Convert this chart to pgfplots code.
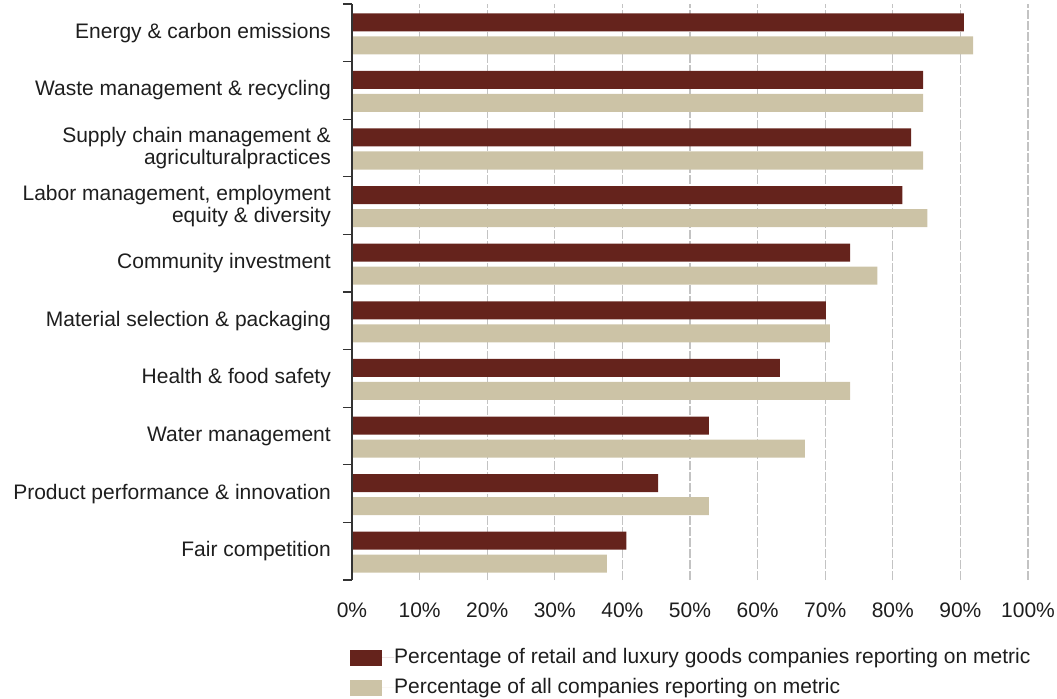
\documentclass[border=0pt]{standalone}
\usepackage{fontspec}
\setmainfont{Liberation Sans}
\usepackage{pgfplots}
\pgfplotsset{compat=1.18}
\definecolor{darkred}{RGB}{101,35,28}
\definecolor{tan}{RGB}{204,195,166}
\definecolor{gridgray}{RGB}{195,195,195}
\definecolor{txt}{RGB}{30,30,30}

\begin{document}
\fontsize{21bp}{22bp}\selectfont
\begin{tikzpicture}
\begin{axis}[
    scale only axis,
    width=676bp, height=576bp,
    xbar,
    bar width=18bp,
    xmin=0, xmax=100,
    ymin=-0.5, ymax=9.5,
    xtick={0,10,...,100},
    xticklabel={\pgfmathprintnumber{\tick}\%},
    /pgf/number format/assume math mode=true,
    ytick={0,...,9},
    yticklabels={Fair competition,
        Product performance \& innovation,
        Water management,
        Health \& food safety,
        Material selection \& packaging,
        Community investment,
        {Labor management, employment\\equity \& diversity},
        {Supply chain management \&\\agriculturalpractices},
        Waste management \& recycling,
        Energy \& carbon emissions},
    yticklabel style={align=right, text=txt, xshift=-14bp, font=\fontsize{21bp}{22bp}\selectfont},
    xticklabel style={text=txt, yshift=-16bp, font=\fontsize{21bp}{22bp}\selectfont},
    minor ytick={-0.5,0.5,...,9.5},
    ytick pos=left,
    major tick length=0pt,
    minor tick length=9bp,
    tick align=outside,
    minor tick style={black!80, line width=1.3bp},
    xmajorgrids,
    major grid style={gridgray, line width=1.2bp, dash pattern=on 9bp off 2bp},
    axis line style={draw=none},
    legend style={at={(rel axis cs:0,0)}, anchor=north west,
        xshift=-2bp, yshift=-64bp,
        draw=none, fill=none, inner sep=0pt,
        font=\fontsize{21bp}{22bp}\selectfont, text=txt,
        row sep=3bp,
        nodes={inner sep=0pt, outer sep=0pt, minimum height=27bp}},
    legend cell align=left,
    extra description/.code={
        \draw[black!80, line width=1.3bp] (rel axis cs:0,0) -- (rel axis cs:0,1);
        \coordinate (sw) at (rel axis cs:0,0);
    },
]
\addplot[fill=darkred, draw=none, bar shift=10.5bp,
    legend image code/.code={\fill[darkred] (0bp,-8bp) rectangle (32bp,8bp);
        \path (0bp,0bp) -- (44bp,0bp);}]
    coordinates {(40.6,0) (45.3,1) (52.8,2) (63.3,3) (70.1,4)
                 (73.7,5) (81.4,6) (82.7,7) (84.5,8) (90.5,9)};
\addplot[fill=tan, draw=none, bar shift=-12.5bp,
    legend image code/.code={\fill[tan] (0bp,-8bp) rectangle (32bp,8bp);
        \path (0bp,0bp) -- (44bp,0bp);}]
    coordinates {(37.7,0) (52.8,1) (67.0,2) (73.7,3) (70.7,4)
                 (77.7,5) (85.1,6) (84.5,7) (84.5,8) (91.9,9)};
\legend{Percentage of retail and luxury goods companies reporting on metric,
        Percentage of all companies reporting on metric}
\end{axis}
\pgfresetboundingbox
\path[use as bounding box] ([shift={(-352bp,-119bp)}]sw) rectangle ([shift={(705bp,580bp)}]sw);
\end{tikzpicture}
\end{document}
